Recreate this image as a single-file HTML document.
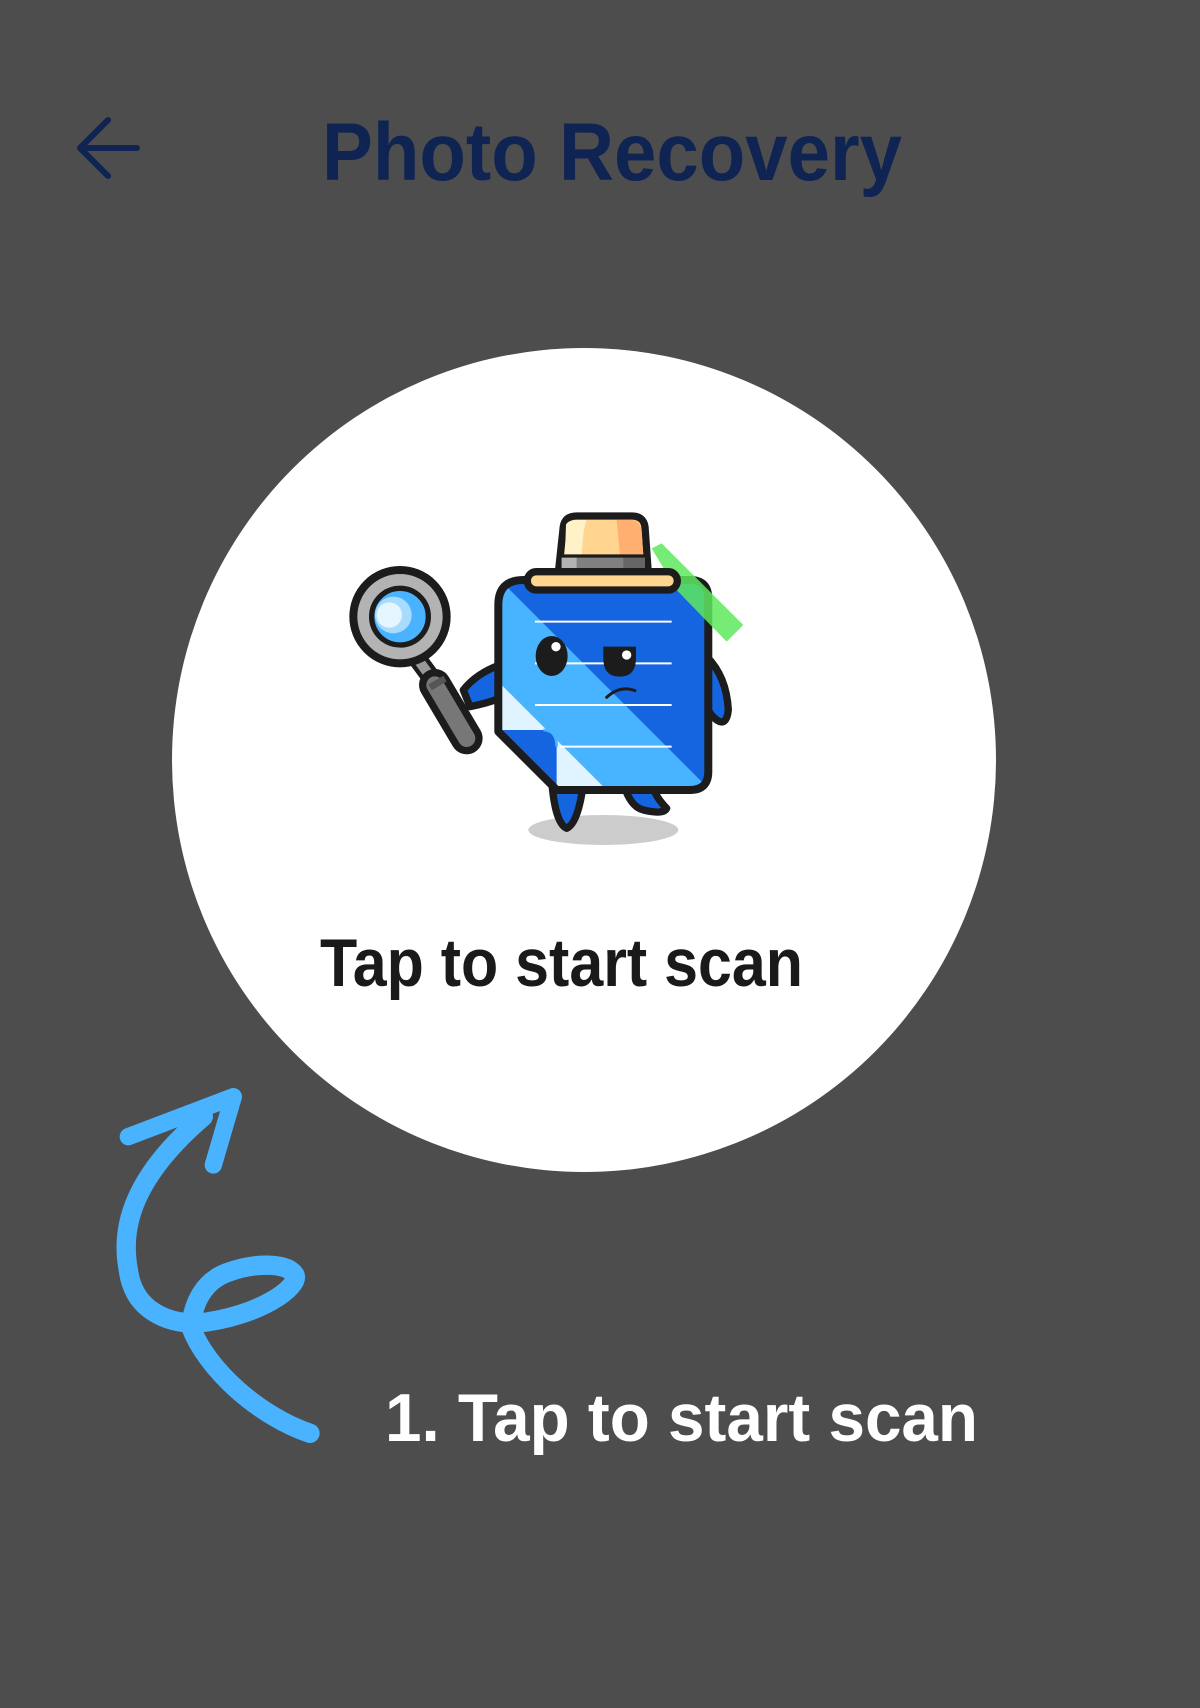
<!DOCTYPE html>
<html><head><meta charset="utf-8"><style>
html,body{margin:0;padding:0;background:#4d4d4d;}
svg{display:block;}
</style></head><body>
<svg width="1200" height="1708" viewBox="0 0 1200 1708" xmlns="http://www.w3.org/2000/svg">
<rect width="1200" height="1708" fill="#4d4d4d"/>
<path d="M137 148 H80 M108 120 L80 148 L108 176" fill="none" stroke="#0f2452" stroke-width="6" stroke-linecap="round" stroke-linejoin="round"/>
<text x="322" y="180" font-family="Liberation Sans, sans-serif" font-weight="bold" font-size="82" fill="#0f2452" textLength="580" lengthAdjust="spacingAndGlyphs">Photo Recovery</text>
<circle cx="584" cy="760" r="412" fill="#ffffff"/>
<text x="320" y="986" font-family="Liberation Sans, sans-serif" font-weight="bold" font-size="68" fill="#1a1a1a" textLength="483" lengthAdjust="spacingAndGlyphs">Tap to start scan</text>
<text x="385" y="1441" font-family="Liberation Sans, sans-serif" font-weight="bold" font-size="68" fill="#ffffff" textLength="593" lengthAdjust="spacingAndGlyphs">1. Tap to start scan</text>
<g transform="translate(100,1070) scale(0.3333)">
<path d="M630 1090 C480 1040 320 900 272 770 C280 700 310 630 390 605 C460 580 560 575 585 615 C600 650 480 740 290 760 C200 760 100 720 85 600 C60 470 100 320 310 140" fill="none" stroke="#4ab3ff" stroke-width="58" stroke-linecap="round" stroke-linejoin="round"/>
<path d="M85 200 L400 80 L340 285" fill="none" stroke="#4ab3ff" stroke-width="52" stroke-linecap="round" stroke-linejoin="round"/>
</g>
<g transform="translate(330,490) scale(0.3333)">
<defs>
<clipPath id="bc"><path d="M580 270 H1080 Q1135 270 1135 325 V845 Q1135 900 1080 900 H680 L505 725 V345 Q505 270 580 270 Z"/></clipPath>
</defs>
<ellipse cx="820" cy="1020" rx="225" ry="45" fill="#cccccc"/>
<path d="M665 870 Q675 1000 710 1015 Q745 1000 760 880 Z" fill="#1565e0" stroke="#1c1c1c" stroke-width="22" stroke-linejoin="round"/>
<path d="M880 880 Q900 950 940 960 Q1000 975 1010 955 Q975 920 965 880 Z" fill="#1565e0" stroke="#1c1c1c" stroke-width="22" stroke-linejoin="round"/>
<path d="M1130 500 Q1190 560 1195 660 Q1190 710 1160 690 Q1140 675 1130 650 Z" fill="#1565e0" stroke="#1c1c1c" stroke-width="22" stroke-linejoin="round"/>
<path d="M510 525 Q440 550 400 600 L420 650 Q470 640 510 625 Z" fill="#1565e0" stroke="#1c1c1c" stroke-width="22" stroke-linejoin="round"/>
<!-- magnifier neck + handle -->
<line x1="250" y1="490" x2="320" y2="585" stroke="#1c1c1c" stroke-width="56" stroke-linecap="round"/>
<line x1="250" y1="490" x2="320" y2="585" stroke="#999" stroke-width="30" stroke-linecap="round"/>
<line x1="315" y1="585" x2="410" y2="745" stroke="#1c1c1c" stroke-width="96" stroke-linecap="round"/>
<line x1="315" y1="585" x2="410" y2="745" stroke="#777" stroke-width="52" stroke-linecap="round"/>
<line x1="300" y1="592" x2="345" y2="566" stroke="#555" stroke-width="20"/>
<circle cx="210" cy="380" r="140" fill="#b3b3b3" stroke="#1c1c1c" stroke-width="24"/>
<circle cx="210" cy="380" r="85" fill="#4ab3ff" stroke="#1c1c1c" stroke-width="16"/>
<circle cx="190" cy="375" r="55" fill="#a8dcff"/>
<circle cx="178" cy="375" r="38" fill="#e6f6ff"/>
<g clip-path="url(#bc)">
<rect x="480" y="250" width="700" height="700" fill="#1565e0"/>
<polygon points="480,250 490,250 1200,960 480,960" fill="#48b4ff"/>
<polygon points="480,550 480,960 890,960" fill="#dff4ff"/>
<path d="M505 720 H640 Q680 720 680 770 V900 H505 Z" fill="#1565e0"/>
</g>
<path d="M640 720 Q680 720 680 770" fill="none" stroke="#48b4ff" stroke-width="8"/>
<path d="M580 270 H1080 Q1135 270 1135 325 V845 Q1135 900 1080 900 H680 L505 725 V345 Q505 270 580 270 Z" fill="none" stroke="#1c1c1c" stroke-width="24" stroke-linejoin="round"/>
<g stroke="#fff" stroke-width="6">
<line x1="615" y1="395" x2="1025" y2="395"/><line x1="615" y1="520" x2="1025" y2="520"/>
<line x1="615" y1="645" x2="1025" y2="645"/><line x1="690" y1="770" x2="1025" y2="770"/>
</g>
<ellipse cx="665" cy="498" rx="48" ry="60" fill="#1c1c1c"/>
<circle cx="678" cy="470" r="14" fill="#fff"/>
<path d="M820 470 H918 V505 Q918 560 869 560 Q820 560 820 505 Z" fill="#1c1c1c"/>
<circle cx="890" cy="495" r="14" fill="#fff"/>
<path d="M830 622 Q870 585 915 602" fill="none" stroke="#1c1c1c" stroke-width="9" stroke-linecap="round"/>
<polygon points="965,175 995,160 1240,405 1190,455 1040,300" fill="#5ee85e" opacity="0.85"/>
<path d="M685 250 L700 110 Q705 78 740 78 H905 Q940 78 945 110 L955 250 Z" fill="#ffd590" stroke="#1c1c1c" stroke-width="22" stroke-linejoin="round"/>
<path d="M708 105 Q712 90 745 90 H770 Q760 110 755 195 H705 Z" fill="#fff2c8"/>
<path d="M860 90 H905 Q930 92 935 120 L940 195 H870 Z" fill="#ffb070"/>
<rect x="695" y="198" width="250" height="50" fill="#808080"/>
<rect x="695" y="198" width="45" height="50" fill="#b3b3b3"/>
<rect x="880" y="198" width="65" height="50" fill="#666"/>
<line x1="690" y1="198" x2="950" y2="198" stroke="#1c1c1c" stroke-width="10"/>
<rect x="592" y="245" width="450" height="55" rx="27" fill="#ffd590" stroke="#1c1c1c" stroke-width="22"/>
</g>
</svg>
</body></html>
